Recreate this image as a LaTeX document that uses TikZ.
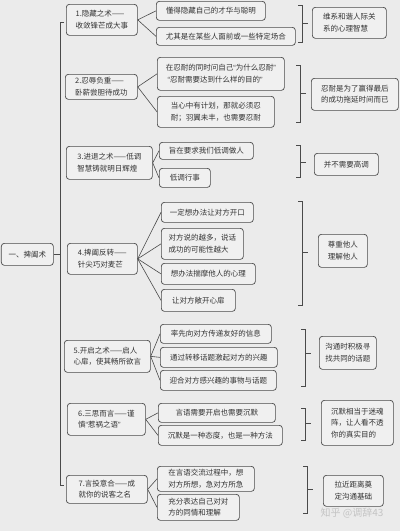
\documentclass[tikz,border=0pt]{standalone}
\usepackage{fontspec}
\setmainfont{Noto Sans CJK SC}
\newfontfamily\latinq{Liberation Sans}
\definecolor{bgc}{HTML}{EBEBEB}
\definecolor{boxc}{HTML}{F0F0F0}
\definecolor{linec}{HTML}{4A4A4A}
\definecolor{wmc}{HTML}{C4C4C4}
\newcommand\qq[1]{{\latinq“}#1{\latinq”}}
\tikzset{
  box/.style={draw=linec, rounded corners=3pt, fill=boxc, line width=0.7pt,
    inner sep=0pt, align=left, anchor=north west,
    font=\fontsize{7.5}{11.5}\selectfont, text=black!80},
  conn/.style={draw=linec, line width=0.6pt},
  brk/.style={draw=linec, line width=0.7pt}
}
\newcommand\mybox[6]{%
  \pgfmathsetmacro\bw{#4-#2}\pgfmathsetmacro\bh{#5-#3}%
  \node[box, minimum width=\bw pt, minimum height=\bh pt] (#1) at (#2,#3) {#6};}
\newcommand\mybrk[4]{%
  \draw[brk] (#1-4,#2) -- (#1,#2) -- (#1,#3) -- (#1-4,#3);
  \draw[brk] (#1,#4) -- (#1+6,#4);}
\begin{document}
\begin{tikzpicture}[x=1pt,y=-1pt]
\fill[bgc] (0,0) rectangle (400,531);
\useasboundingbox (0,0) rectangle (400,531);

% root
\mybox{root}{1}{243}{53}{265}{一、捭阖术}
\coordinate (main) at (60,0);
\draw[brk] (64,22) -- (60,22) -- (60,485) -- (64,485);
\draw[brk] (root.east) -- (root.east -| main);

% main branches
\mybox{m1}{66}{4}{137}{35}{1.隐藏之术——\\收敛锋芒成大事}
\mybox{m2}{65}{74}{137}{99}{2.忍辱负重——\\卧薪尝胆待成功}
\mybox{m3}{66}{146}{152}{179}{3.进退之术——低调\\智慧铸就明日辉煌}
\mybox{m4}{67}{243}{137}{274}{4.捭阖反转——\\针尖巧对麦芒}
\mybox{m5}{64}{340}{150}{372}{5.开启之术——启人\\心扉，使其畅所欲言}
\mybox{m6}{67}{403}{145}{435}{6.三思而言——谨\\慎\qq{惹祸之语}}
\mybox{m7}{66}{475}{147}{503}{7.言投意合——成\\就你的说客之名}

% children
\mybox{c11}{156}{1}{265}{20}{懂得隐藏自己的才华与聪明}
\mybox{c12}{156}{27}{295}{45}{尤其是在某些人面前或一些特定场合}
\mybox{c21}{157}{57}{284}{90}{在忍耐的同时问自己\qq{为什么忍耐}\\\ \qq{忍耐需要达到什么样的目的}}
\mybox{c22}{157}{96}{274}{127}{当心中有计划，那就必须忍\\耐；羽翼未丰，也需要忍耐}
\mybox{c31}{159}{142}{253}{159}{旨在要求我们低调做人}
\mybox{c32}{159}{168}{210}{187}{低调行事}
\mybox{c41}{161}{202}{253}{222}{一定想办法让对方开口}
\mybox{c42}{161}{228}{243}{259}{对方说的越多，说话\\成功的可能性越大}
\mybox{c43}{161}{263}{255}{284}{想办法揣摩他人的心理}
\mybox{c44}{161}{289}{235}{311}{让对方敞开心扉}
\mybox{c51}{160}{324}{271}{343}{率先向对方传递友好的信息}
\mybox{c52}{160}{347}{277}{367}{通过转移话题激起对方的兴趣}
\mybox{c53}{160}{370}{276}{390}{迎合对方感兴趣的事物与话题}
\mybox{c61}{158}{403}{275}{422}{言语需要开启也需要沉默}
\mybox{c62}{158}{425}{282}{445}{沉默是一种态度，也是一种方法}
\mybox{c71}{157}{466}{254}{491}{在言语交流过程中，想\\对方所想，急对方所急}
\mybox{c72}{157}{494}{239}{520}{充分表达自己对对\\方的同情和理解}

% fans
\foreach \m/\c in {m1/c11,m1/c12,m2/c21,m2/c22,m3/c31,m3/c32,
  m4/c41,m4/c42,m4/c43,m4/c44,m5/c51,m5/c52,m5/c53,m6/c61,m6/c62,m7/c71,m7/c72}
  \draw[conn] (\m.east) -- (\c.west);

% brackets
\mybrk{302}{5}{42}{23}
\mybrk{300}{65}{122}{93}
\mybrk{300}{145}{177}{162}
\mybrk{302}{201}{305}{252}
\mybrk{305}{329}{386}{353}
\mybrk{305}{408}{440}{423}
\mybrk{307}{466}{513}{489}

% results
\mybox{r1}{312}{7}{386}{38}{维系和谐人际关\\系的心理智慧}
\mybox{r2}{311}{78}{398}{110}{忍耐是为了赢得最后\\的成功拖延时间而已}
\mybox{r3}{314}{153}{378}{175}{并不需要高调}
\mybox{r4}{318}{234}{367}{267}{尊重他人\\理解他人}
\mybox{r5}{319}{336}{376}{369}{沟通时积极寻\\找共同的话题}
\mybox{r6}{321}{400}{393}{445}{沉默相当于迷魂\\阵，让人看不透\\你的真实目的}
\mybox{r7}{323}{475}{383}{506}{拉近距离奠\\定沟通基础}

% watermark
\node[text=wmc, font=\fontsize{10}{12}\selectfont, inner sep=0pt] (wm) at (352,513) {知乎 @调辞43};
\end{tikzpicture}
\end{document}
